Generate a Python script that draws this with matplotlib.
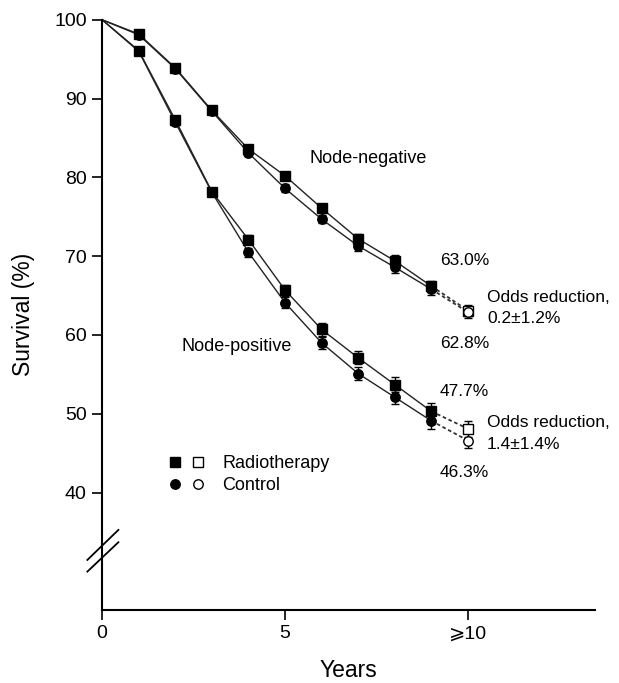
import matplotlib
matplotlib.use("Agg")
import matplotlib.pyplot as plt
from matplotlib.lines import Line2D
from matplotlib.legend_handler import HandlerTuple

plt.rcParams['font.family'] = ['Liberation Sans', 'DejaVu Sans']

years = [0, 1, 2, 3, 4, 5, 6, 7, 8, 9, 10]
# node-negative
nn_rt = [100, 98.2, 93.9, 88.5, 83.6, 80.2, 76.1, 72.2, 69.4, 66.2, 63.1]
nn_ctrl = [100, 98.1, 93.8, 88.4, 83.1, 78.6, 74.7, 71.3, 68.6, 65.8, 62.9]
nn_rt_err = [0, 0.2, 0.3, 0.3, 0.4, 0.5, 0.5, 0.6, 0.7, 0.7, 0.7]
nn_ctrl_err = [0, 0.2, 0.3, 0.3, 0.4, 0.5, 0.5, 0.6, 0.7, 0.7, 0.7]
# node-positive
np_rt = [100, 96.1, 87.3, 78.2, 72.1, 65.7, 60.7, 57.1, 53.7, 50.3, 48.1]
np_ctrl = [100, 96.0, 87.0, 78.1, 70.5, 64.1, 59.0, 55.1, 52.1, 49.1, 46.6]
np_rt_err = [0, 0.3, 0.4, 0.5, 0.6, 0.7, 0.8, 0.8, 0.9, 1.0, 1.0]
np_ctrl_err = [0, 0.3, 0.4, 0.5, 0.6, 0.7, 0.8, 0.8, 0.9, 1.0, 1.0]

xtick_pos = [0, 5, 10]
xtick_labels = ['0', '5', '⩾10']
ytick_pos = [40, 50, 60, 70, 80, 90, 100]

fig = plt.figure(figsize=(6.19, 6.83), dpi=100)
ax = fig.add_axes([0.165, 0.107, 0.796, 0.864])


def draw_series(y, err, marker):
    # solid up to year 9, dashed to the last point
    ax.plot(years[:10], y[:10], color='#222222', lw=1.0, zorder=2, clip_on=False)
    ax.plot(years[9:], y[9:], color='#333333', lw=1.3, ls=(0, (2, 1.5)), zorder=2)
    ax.errorbar(years[1:10], y[1:10], yerr=err[1:10], fmt=marker, ms=6.8,
                mfc='black', mec='black', ecolor='black', elinewidth=1,
                capsize=3, capthick=1, zorder=3)
    ax.errorbar(years[10:], y[10:], yerr=err[10:], fmt=marker, ms=6.8,
                mfc='white', mec='black', mew=1, ecolor='black', elinewidth=1,
                capsize=3, capthick=1, zorder=3)


draw_series(nn_rt, nn_rt_err, 's')
draw_series(nn_ctrl, nn_ctrl_err, 'o')
draw_series(np_rt, np_rt_err, 's')
draw_series(np_ctrl, np_ctrl_err, 'o')

ax.set_xlim(0, 13.47)
ax.set_ylim(25.1, 100)
ax.set_xticks(xtick_pos)
ax.set_xticklabels(xtick_labels)
ax.set_yticks(ytick_pos)
ax.tick_params(axis='both', direction='out', length=7, width=1.2, labelsize=14, pad=4)
ax.spines['top'].set_visible(False)
ax.spines['right'].set_visible(False)
ax.spines['left'].set_linewidth(1.5)
ax.spines['bottom'].set_linewidth(1.5)

ax.set_xlabel('Years', fontsize=16.5, labelpad=12)
ax.set_ylabel('Survival (%)', fontsize=16.5, labelpad=14)

# axis break marks
for y0, y1 in [(0.0847, 0.1356), (0.0649, 0.1147)]:
    ax.plot([-0.030, 0.033], [y0, y1], transform=ax.transAxes, color='black',
            lw=1.3, clip_on=False)

# annotations
ax.text(5.68, 82.4, 'Node-negative', fontsize=13, va='center')
ax.text(2.17, 58.5, 'Node-positive', fontsize=13, va='center')
fs = 12.5
ax.text(9.23, 69.45, '63.0%', fontsize=fs, va='center')
ax.text(10.52, 63.4, 'Odds reduction,\n0.2±1.2%', fontsize=fs, va='center', linespacing=1.55)
ax.text(9.23, 58.9, '62.8%', fontsize=fs, va='center')
ax.text(9.23, 52.8, '47.7%', fontsize=fs, va='center')
ax.text(10.52, 47.5, 'Odds reduction,\n1.4±1.4%', fontsize=fs, va='center', linespacing=1.55)
ax.text(9.23, 42.5, '46.3%', fontsize=fs, va='center')

# legend
h_rt = (Line2D([], [], marker='s', ls='none', ms=6.8, mfc='black', mec='black'),
        Line2D([], [], marker='s', ls='none', ms=6.8, mfc='white', mec='black'))
h_ct = (Line2D([], [], marker='o', ls='none', ms=6.8, mfc='black', mec='black'),
        Line2D([], [], marker='o', ls='none', ms=6.8, mfc='white', mec='black'))
ax.legend([h_rt, h_ct], ['Radiotherapy', 'Control'],
          handler_map={tuple: HandlerTuple(ndivide=None, pad=0.36)},
          loc='upper left', bbox_to_anchor=(0.131, 0.262), frameon=False,
          fontsize=13, handlelength=2.2, handletextpad=0.87, labelspacing=0.28,
          borderpad=0, borderaxespad=0)

fig.savefig('out.png', dpi=100)
